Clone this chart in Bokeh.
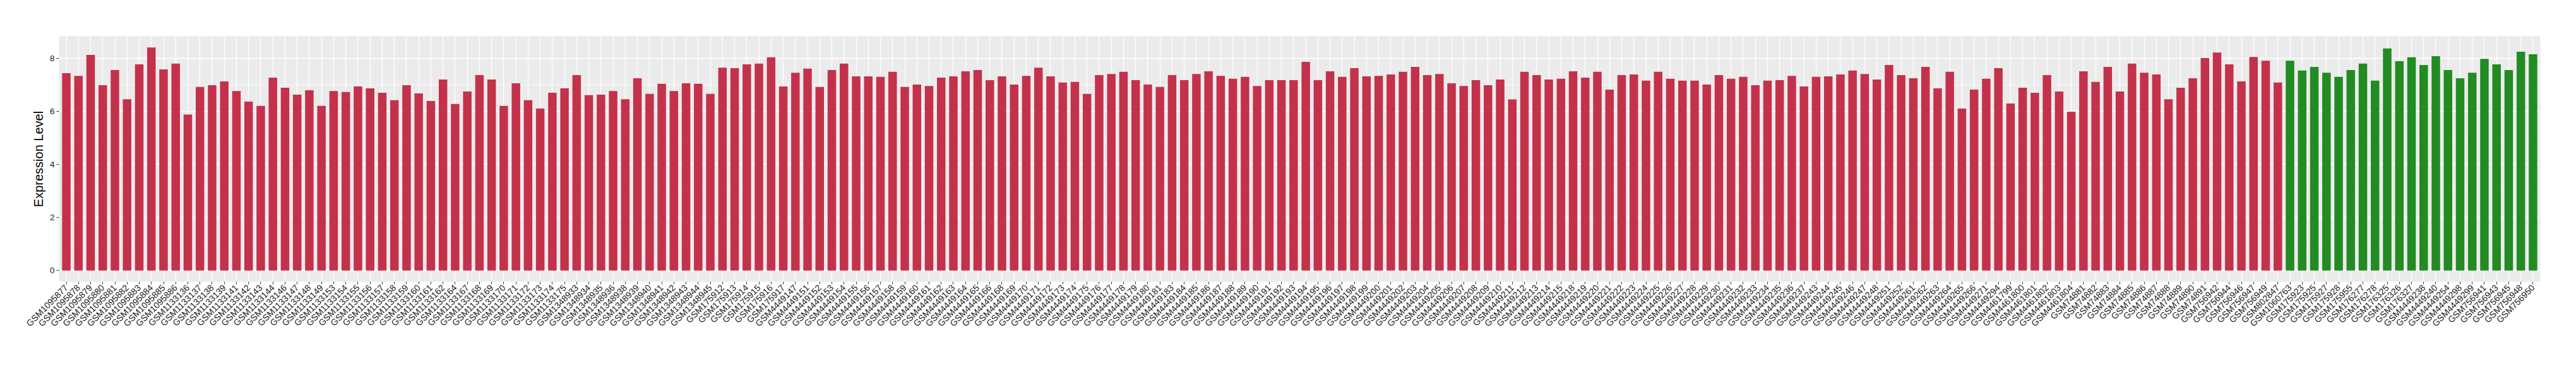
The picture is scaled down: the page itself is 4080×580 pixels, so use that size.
import math
from bokeh.plotting import figure
from bokeh.models import FactorRange, Range1d, FixedTicker, ColumnDataSource
from bokeh.embed import file_html
from bokeh.resources import INLINE

tumor_samples = [
    "GSM1095877", "GSM1095878", "GSM1095879", "GSM1095880", "GSM1095881",
    "GSM1095882", "GSM1095883", "GSM1095884", "GSM1095885", "GSM1095886",
    "GSM1133136", "GSM1133137", "GSM1133138", "GSM1133139", "GSM1133141",
    "GSM1133142", "GSM1133143", "GSM1133144", "GSM1133146", "GSM1133147",
    "GSM1133148", "GSM1133149", "GSM1133153", "GSM1133154", "GSM1133155",
    "GSM1133156", "GSM1133157", "GSM1133158", "GSM1133159", "GSM1133160",
    "GSM1133161", "GSM1133162", "GSM1133164", "GSM1133167", "GSM1133168",
    "GSM1133169", "GSM1133170", "GSM1133171", "GSM1133172", "GSM1133173",
    "GSM1133174", "GSM1133175",
    "GSM1348933", "GSM1348934", "GSM1348935", "GSM1348936", "GSM1348938",
    "GSM1348939", "GSM1348940", "GSM1348941", "GSM1348942", "GSM1348943",
    "GSM1348944", "GSM1348945",
    "GSM175912", "GSM175913", "GSM175914", "GSM175915", "GSM175916", "GSM175917",
    "GSM4449147", "GSM4449151", "GSM4449152", "GSM4449153", "GSM4449154",
    "GSM4449155", "GSM4449156", "GSM4449157", "GSM4449158", "GSM4449159",
    "GSM4449160", "GSM4449161", "GSM4449162", "GSM4449163", "GSM4449164",
    "GSM4449165", "GSM4449166", "GSM4449168", "GSM4449169", "GSM4449170",
    "GSM4449171", "GSM4449172", "GSM4449173", "GSM4449174", "GSM4449175",
    "GSM4449176", "GSM4449177", "GSM4449178", "GSM4449179", "GSM4449180",
    "GSM4449181", "GSM4449183", "GSM4449184", "GSM4449185", "GSM4449186",
    "GSM4449187", "GSM4449188", "GSM4449189", "GSM4449190", "GSM4449191",
    "GSM4449192", "GSM4449193", "GSM4449194", "GSM4449195", "GSM4449196",
    "GSM4449197", "GSM4449198", "GSM4449199", "GSM4449200", "GSM4449201",
    "GSM4449202", "GSM4449203", "GSM4449204", "GSM4449205", "GSM4449206",
    "GSM4449207", "GSM4449208", "GSM4449209", "GSM4449210", "GSM4449211",
    "GSM4449212", "GSM4449213", "GSM4449214", "GSM4449215", "GSM4449218",
    "GSM4449219", "GSM4449220", "GSM4449221", "GSM4449222", "GSM4449223",
    "GSM4449224", "GSM4449225", "GSM4449226", "GSM4449227", "GSM4449228",
    "GSM4449229", "GSM4449230", "GSM4449231", "GSM4449232", "GSM4449233",
    "GSM4449234", "GSM4449235", "GSM4449236", "GSM4449237", "GSM4449243",
    "GSM4449244", "GSM4449245", "GSM4449246", "GSM4449247", "GSM4449248",
    "GSM4449251", "GSM4449252", "GSM4449261", "GSM4449262", "GSM4449263",
    "GSM4449264", "GSM4449265", "GSM4449266", "GSM4449271", "GSM4449294",
    "GSM4461799", "GSM4461800", "GSM4461801", "GSM4461802", "GSM4461803",
    "GSM4461804",
    "GSM74881", "GSM74882", "GSM74883", "GSM74884", "GSM74885", "GSM74886",
    "GSM74887", "GSM74888", "GSM74889", "GSM74890", "GSM74891",
    "GSM756942", "GSM756944", "GSM756946", "GSM756947", "GSM756949",
    "GSM802847",
]

tumor_values = [
    7.44, 7.34, 8.13, 6.99, 7.56, 6.46, 7.77, 8.41, 7.58, 7.80,
    5.88, 6.92, 6.99, 7.13, 6.77, 6.37, 6.21, 7.27, 6.89, 6.63,
    6.80, 6.21, 6.77, 6.73, 6.94, 6.87, 6.70, 6.42, 6.99, 6.68,
    6.39, 7.20, 6.28, 6.75, 7.37, 7.20, 6.21, 7.06, 6.42, 6.11,
    6.70, 6.87,
    7.37, 6.61, 6.63, 6.77, 6.46, 7.25, 6.66, 7.04, 6.77, 7.06,
    7.04, 6.66,
    7.65, 7.63, 7.77, 7.80, 8.04, 6.94,
    7.46, 7.61, 6.92, 7.56, 7.80, 7.32, 7.32, 7.30, 7.49, 6.92,
    7.01, 6.96, 7.27, 7.32, 7.51, 7.56, 7.18, 7.32, 7.01, 7.34,
    7.65, 7.32, 7.09, 7.11, 6.66, 7.37, 7.41, 7.49, 7.18, 7.01,
    6.92, 7.37, 7.18, 7.41, 7.51, 7.34, 7.23, 7.30, 6.96, 7.18,
    7.18, 7.18, 7.87, 7.18, 7.51, 7.30, 7.63, 7.32, 7.34, 7.39,
    7.49, 7.68, 7.37, 7.41, 7.06, 6.96, 7.18, 6.99, 7.20, 6.45,
    7.49, 7.37, 7.20, 7.23, 7.51, 7.27, 7.49, 6.82, 7.37, 7.39,
    7.16, 7.49, 7.23, 7.16, 7.16, 7.01, 7.37, 7.23, 7.30, 6.99,
    7.16, 7.18, 7.34, 6.94, 7.30, 7.32, 7.39, 7.54, 7.41, 7.20,
    7.75, 7.37, 7.25, 7.68, 6.87, 7.49, 6.11, 6.82, 7.23, 7.63,
    6.30, 6.89, 6.70, 7.37, 6.75, 5.99,
    7.51, 7.11, 7.68, 6.75, 7.80, 7.46, 7.39, 6.46, 6.89, 7.25, 8.01,
    8.22, 7.77, 7.13, 8.05, 7.91,
    7.09,
]

normal_samples = [
    "GSM1060763", "GSM175923", "GSM175925", "GSM175927", "GSM175928",
    "GSM175955", "GSM176277", "GSM176278", "GSM176325", "GSM176326",
    "GSM176327", "GSM4449238", "GSM4449240", "GSM4449254", "GSM4449298",
    "GSM4449299", "GSM756941", "GSM756943", "GSM756945", "GSM756948",
    "GSM756950",
]

normal_values = [
    7.91, 7.54, 7.68, 7.46, 7.30, 7.56, 7.80, 7.16, 8.37, 7.89,
    8.04, 7.75, 8.08, 7.56, 7.25, 7.46, 7.98, 7.77, 7.56, 8.25,
    8.15,
]

y_ticks = [0, 2, 4, 6, 8]
y_minor = [1, 3, 5, 7]

TUMOR_COLOR = "#C4314B"
NORMAL_COLOR = "#228B22"
FONT = "Liberation Sans"

samples = tumor_samples + normal_samples
values = tumor_values + normal_values
colors = [TUMOR_COLOR] * len(tumor_samples) + [NORMAL_COLOR] * len(normal_samples)

src = ColumnDataSource(dict(sample=samples, value=values, color=colors))

ymax = max(values) * 1.05
ymin = -max(values) * 0.05

p = figure(
    frame_width=3930, frame_height=389,
    x_range=FactorRange(factors=samples, range_padding=0.1, range_padding_units="absolute"),
    y_range=Range1d(ymin, ymax),
    output_backend="svg", toolbar_location=None,
    min_border_left=93, min_border_right=41, min_border_top=57, min_border_bottom=118,
)
p.vbar(x="sample", top="value", bottom=0, width=0.7, fill_color="color",
       line_color=None, source=src)

p.background_fill_color = "#EBEBEB"
p.border_fill_color = "white"
p.outline_line_color = None

p.xgrid.grid_line_color = "white"
p.xgrid.grid_line_width = 1.3
p.ygrid.grid_line_color = "white"
p.ygrid.grid_line_width = 1.3
p.ygrid.minor_grid_line_color = "white"
p.ygrid.minor_grid_line_width = 0.6

p.yaxis.ticker = FixedTicker(ticks=y_ticks, minor_ticks=y_minor)
p.yaxis.axis_label = "Expression Level"
p.yaxis.axis_label_text_font = FONT
p.yaxis.axis_label_text_font_size = "20px"
p.yaxis.axis_label_text_font_style = "normal"
p.yaxis.axis_label_text_color = "black"
p.yaxis.axis_label_standoff = 4

for ax in (p.xaxis[0], p.yaxis[0]):
    ax.axis_line_color = None
    ax.major_tick_line_color = "#333333"
    ax.major_tick_out = 4
    ax.major_tick_in = 0
    ax.minor_tick_line_color = None
    ax.major_label_text_font = FONT
    ax.major_label_text_color = "#1a1a1a"
    ax.major_label_standoff = 3

p.yaxis.major_label_text_font_size = "13.5px"
p.xaxis.major_label_text_font_size = "14px"
p.xaxis.major_label_orientation = math.pi / 4

open("out.html", "w").write(file_html(p, INLINE))
